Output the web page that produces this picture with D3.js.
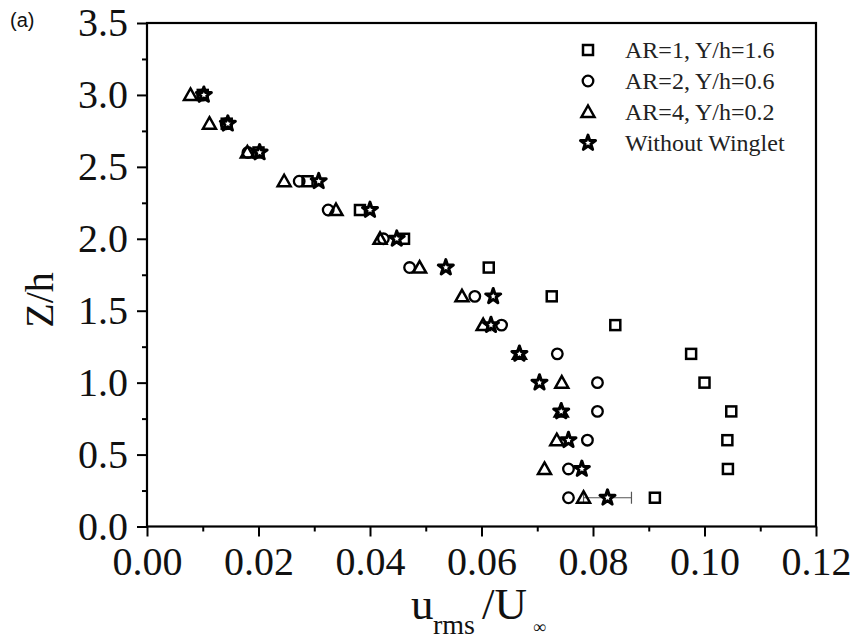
<!DOCTYPE html>
<html>
<head>
<meta charset="utf-8">
<script src="https://cdn.jsdelivr.net/npm/d3@7"></script>
<style>
  html, body { margin: 0; padding: 0; background: #fff; }
  svg { display: block; }
</style>
</head>
<body>
<svg id="chart" width="855" height="639"></svg>
<script>
// ---- data ----
const zLevels = [0.2, 0.4, 0.6, 0.8, 1.0, 1.2, 1.4, 1.6, 1.8, 2.0, 2.2, 2.4, 2.6, 2.8, 3.0];
const ar1 = [0.0911, 0.1042, 0.1041, 0.1048, 0.1000, 0.0976, 0.0840, 0.0726, 0.0613, 0.0461, 0.0382, 0.0288, 0.0200, 0.0143, 0.0100];
const ar2 = [0.0756, 0.0756, 0.0790, 0.0808, 0.0808, 0.0736, 0.0636, 0.0588, 0.0471, 0.0424, 0.0325, 0.0273, 0.0181, 0.0142, 0.0100];
const ar4 = [0.0783, 0.0713, 0.0735, 0.0743, 0.0744, 0.0668, 0.0603, 0.0565, 0.0489, 0.0418, 0.0339, 0.0246, 0.0180, 0.0112, 0.0078];
const noWinglet = [0.0826, 0.0780, 0.0756, 0.0743, 0.0704, 0.0668, 0.0617, 0.0621, 0.0536, 0.0448, 0.0400, 0.0308, 0.0202, 0.0145, 0.0102];
const errZ = [0.2];
const errHalf = [0.0043];
const seriesNames = ["AR=1, Y/h=1.6", "AR=2, Y/h=0.6", "AR=4, Y/h=0.2", "Without Winglet"];
const xTicks = [0.00, 0.02, 0.04, 0.06, 0.08, 0.10, 0.12];
const yTicks = [0.0, 0.5, 1.0, 1.5, 2.0, 2.5, 3.0, 3.5];

const svg = d3.select("#chart");
const L = 147, R = 816, T = 23, B = 526.5;
const x = d3.scaleLinear().domain([0, 0.12]).range([L, R]);
const y = d3.scaleLinear().domain([0, 3.5]).range([B, T]);
const serif = "'Liberation Serif', 'Times New Roman', serif";

// minor ticks
const xMinor = d3.range(0.01, 0.12, 0.02);
const yMinor = d3.range(0.25, 3.5, 0.5);

const gx = svg.append("g").attr("transform", `translate(0,${B})`)
  .call(d3.axisBottom(x).tickValues(xTicks).tickFormat(d3.format(".2f")).tickSize(10).tickPadding(10));
const gxm = svg.append("g").attr("transform", `translate(0,${B})`)
  .call(d3.axisBottom(x).tickValues(xMinor).tickFormat("").tickSize(5));
const gy = svg.append("g").attr("transform", `translate(${L},0)`)
  .call(d3.axisLeft(y).tickValues(yTicks).tickFormat(d3.format(".1f")).tickSize(10).tickPadding(9));
const gym = svg.append("g").attr("transform", `translate(${L},0)`)
  .call(d3.axisLeft(y).tickValues(yMinor).tickFormat("").tickSize(5));
[gx, gxm, gy, gym].forEach(g => {
  g.select(".domain").remove();
  g.selectAll("line").attr("stroke", "#000").attr("stroke-width", 2);
  g.selectAll("text").attr("fill", "#111").style("font-family", serif).style("font-size", "40px");
});
gx.selectAll("text").attr("dy", "0.71em");

// frame
svg.append("rect").attr("x", L).attr("y", T).attr("width", R - L).attr("height", B - T)
  .attr("fill", "none").attr("stroke", "#000").attr("stroke-width", 2.2);

// symbols
const starPath = d3.symbol().type(d3.symbolStar).size(70)();
const shapes = [
  { vals: ar1, draw: (g) => g.append("rect").attr("x", -5).attr("y", -5).attr("width", 10).attr("height", 10).attr("fill", "#fff").attr("stroke", "#000").attr("stroke-width", 2.5) },
  { vals: ar2, draw: (g) => g.append("circle").attr("r", 5.3).attr("fill", "none").attr("stroke", "#000").attr("stroke-width", 2.3) },
  { vals: ar4, draw: (g) => g.append("path").attr("d", "M0,-6.5L6.5,5L-6.5,5Z").attr("fill", "none").attr("stroke", "#000").attr("stroke-width", 2.5).attr("stroke-linejoin", "miter") },
  { vals: noWinglet, draw: (g) => g.append("path").attr("d", starPath).attr("fill", "#fff").attr("stroke", "#000").attr("stroke-width", 3).attr("stroke-linejoin", "round") }
];

// error bars (on Without Winglet)
errZ.forEach((z, i) => {
  const v = noWinglet[zLevels.indexOf(z)];
  const g = svg.append("g").attr("stroke", "#555").attr("stroke-width", 1.2);
  g.append("line").attr("x1", x(v - errHalf[i])).attr("x2", x(v + errHalf[i])).attr("y1", y(z)).attr("y2", y(z));
  g.append("line").attr("x1", x(v + errHalf[i])).attr("x2", x(v + errHalf[i])).attr("y1", y(z) - 6).attr("y2", y(z) + 6);
  g.append("line").attr("x1", x(v - errHalf[i])).attr("x2", x(v - errHalf[i])).attr("y1", y(z) - 6).attr("y2", y(z) + 6);
});

shapes.forEach(s => {
  s.vals.forEach((v, i) => {
    const g = svg.append("g").attr("transform", `translate(${x(v)},${y(zLevels[i])})`);
    s.draw(g);
  });
});

// legend
const legY = [50, 81, 112, 143];
seriesNames.forEach((name, i) => {
  const g = svg.append("g").attr("transform", `translate(588,${legY[i]})`);
  shapes[i].draw(g);
  svg.append("text").attr("x", 625).attr("y", legY[i]).attr("dy", "0.35em")
    .style("font-family", serif).style("font-size", "24px").attr("fill", "#222").text(name);
});

// axis titles
svg.append("text").attr("transform", "translate(53,300) rotate(-90)").attr("text-anchor", "middle")
  .style("font-family", serif).style("font-size", "40px").attr("fill", "#111").text("Z/h");

const xt = svg.append("g").style("font-family", serif).attr("fill", "#111");
xt.append("text").attr("x", 411).attr("y", 619).style("font-size", "45px").text("u");
xt.append("text").attr("x", 433).attr("y", 634).style("font-size", "28px").text("rms");
xt.append("text").attr("x", 482).attr("y", 619).style("font-size", "45px").text("/U");
xt.append("text").attr("x", 533).attr("y", 633).style("font-size", "18px").text("∞");

svg.append("text").attr("x", 10).attr("y", 27)
  .style("font-family", "'Liberation Sans', Arial, sans-serif").style("font-size", "20px").attr("fill", "#111").text("(a)");
</script>
</body>
</html>
